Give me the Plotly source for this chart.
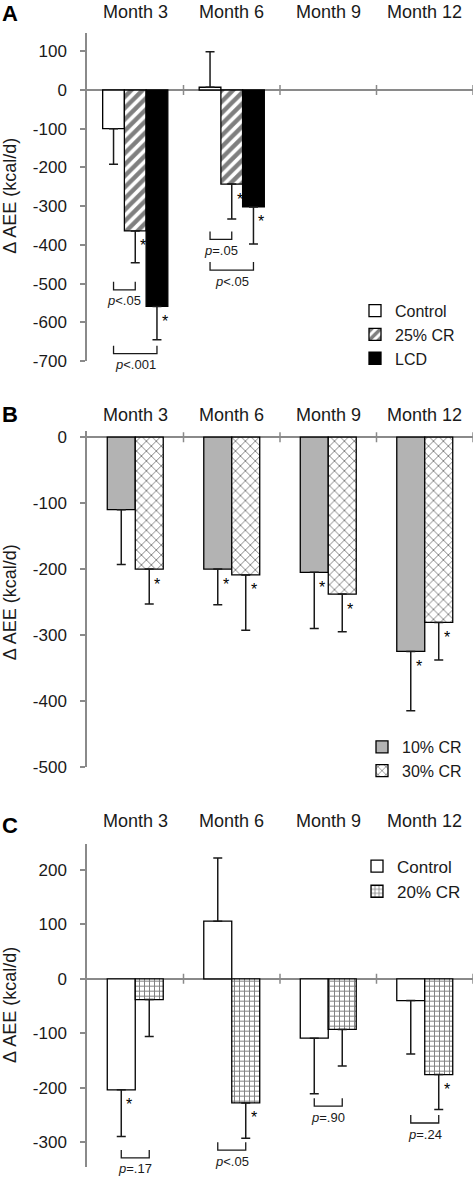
import plotly.graph_objects as go

# ---------------- data ----------------
months = ["Month 3", "Month 6", "Month 9", "Month 12"]

# Panel A
a_control = [-100, 7, None, None]
a_control_sd = [92, 92, None, None]
a_cr25 = [-364, -243, None, None]
a_cr25_sd = [82, 90, None, None]
a_lcd = [-559, -302, None, None]
a_lcd_sd = [86, 96, None, None]
a_control_star = [False, False, False, False]
a_cr25_star = [True, True, False, False]
a_lcd_star = [True, True, False, False]
a_ticks = [100, 0, -100, -200, -300, -400, -500, -600, -700]

# Panel B
b_cr10 = [-110, -200, -205, -325]
b_cr10_sd = [83, 54, 85, 90]
b_cr30 = [-200, -209, -238, -281]
b_cr30_sd = [53, 84, 57, 57]
b_cr10_star = [False, True, True, True]
b_cr30_star = [True, True, True, True]
b_ticks = [0, -100, -200, -300, -400, -500]

# Panel C
c_control = [-204, 106, -109, -40]
c_control_sd = [86, 116, 102, 98]
c_cr20 = [-38, -228, -93, -176]
c_cr20_sd = [68, 65, 67, 64]
c_control_star = [True, False, False, False]
c_cr20_star = [False, True, False, True]
c_ticks = [200, 100, 0, -100, -200, -300]

# p-value comparisons: (month index, bar i, bar j, label)
a_pvals = [(0, 0, 1, "<.05"), (0, 0, 2, "<.001"), (1, 0, 1, "=.05"), (1, 0, 2, "<.05")]
c_pvals = [(0, 0, 1, "=.17"), (1, 0, 1, "<.05"), (2, 0, 1, "=.90"), (3, 0, 1, "=.24")]

# ---------------- layout helpers ----------------
W, H = 475, 1184
FONT = "Liberation Sans, Arial, sans-serif"
GRAY = "#8a8a8a"
INK = "#1a1a1a"
X0PX, X1PX = 87, 473


def fy(px):
    return 1 - px / H


panels = {
    "A": dict(ax="", dom=(30, 362), rng=(-700, 148), ticks=a_ticks, w=0.225,
              month_y=9, letter_y=11, title_y=195, legend=(355, 294), lsize=16, lname="legend",
              pvals=a_pvals, bracket_y=[-516, -681, -386, -465]),
    "B": dict(ax="2", dom=(433, 772.3), rng=(-500, 9), ticks=b_ticks, w=0.29,
              month_y=416.5, letter_y=416, title_y=606, legend=(362, 735), lsize=16, lname="legend2",
              pvals=[], bracket_y=[]),
    "C": dict(ax="3", dom=(850, 1177), rng=(-346, 248.5), ticks=c_ticks, w=0.29,
              month_y=827, letter_y=832, title_y=1013, legend=(357, 855), lsize=17, lname="legend3",
              pvals=c_pvals, bracket_y=[-329, -315, -234, -265]),
}

series = {
    "A": [
        ("Control", a_control, a_control_sd, a_control_star, dict(color="white")),
        ("25% CR", a_cr25, a_cr25_sd, a_cr25_star,
         dict(color="white", pattern=dict(shape="/", fgcolor="black", bgcolor="white", size=8, solidity=0.55))),
        ("LCD", a_lcd, a_lcd_sd, a_lcd_star, dict(color="black")),
    ],
    "B": [
        ("10% CR", b_cr10, b_cr10_sd, b_cr10_star, dict(color="#b3b3b3")),
        ("30% CR", b_cr30, b_cr30_sd, b_cr30_star,
         dict(color="white", pattern=dict(shape="x", fgcolor="black", bgcolor="white", size=7, solidity=0.25))),
    ],
    "C": [
        ("Control", c_control, c_control_sd, c_control_star, dict(color="white")),
        ("20% CR", c_cr20, c_cr20_sd, c_cr20_star,
         dict(color="white", pattern=dict(shape="+", fgcolor="black", bgcolor="white", size=5, solidity=0.35))),
    ],
}

fig = go.Figure()
annotations = []
shapes = []
idx = list(range(len(months)))

for key, p in panels.items():
    ax = p["ax"]
    xref, yref = "x" + ax, "y" + ax
    w = p["w"]
    ser = series[key]
    n = len(ser)
    dom_px = p["dom"][1] - p["dom"][0]
    ppu = dom_px / (p["rng"][1] - p["rng"][0])  # pixels per data unit
    centers = []
    for i, (name, vals, sds, stars, mk) in enumerate(ser):
        off = -n * w / 2 + i * w
        plus, minus = [], []
        for v, s in zip(vals, sds):
            if v is None:
                plus.append(None); minus.append(None)
            elif v >= 0:
                plus.append(s); minus.append(0)
            else:
                plus.append(0); minus.append(s)
        marker = dict(mk)
        marker["line"] = dict(color="black", width=1.3)
        fig.add_trace(go.Bar(
            x=idx, y=vals, width=w, offset=off, name=name, marker=marker,
            xaxis=xref, yaxis=yref, legend=p["lname"], hoverinfo="skip",
            error_y=dict(type="data", symmetric=False, array=plus, arrayminus=minus,
                         color=INK, thickness=1.5, width=4.5),
        ))
        centers.append(off + w / 2)
        for m, (v, st) in enumerate(zip(vals, stars)):
            if st and v is not None:
                annotations.append(dict(x=m + off + w / 2, y=v, xref=xref, yref=yref, text="*",
                                        showarrow=False, xshift=8, yshift=-15,
                                        font=dict(size=16, color="#000000", family=FONT)))
    tick_h = 8 / ppu
    for (m, bi, bj, lab), yl in zip(p["pvals"], p["bracket_y"]):
        xa, xb = m + centers[bi], m + centers[bj]
        shapes.append(dict(type="path", xref=xref, yref=yref,
                           path=f"M {xa},{yl + tick_h} L {xa},{yl} L {xb},{yl} L {xb},{yl + tick_h}",
                           line=dict(color=INK, width=1.3)))
        annotations.append(dict(x=(xa + xb) / 2, y=yl, xref=xref, yref=yref,
                                text="<i>p</i>" + lab.replace("<", "&lt;"), showarrow=False,
                                yshift=-11, font=dict(size=13, color=INK, family=FONT)))
    for b in idx:
        shapes.append(dict(type="line", xref=xref, yref=yref, x0=b + 0.5, x1=b + 0.5,
                           ysizemode="pixel", yanchor=0, y0=-5, y1=5,
                           line=dict(color=GRAY, width=1.5)))
    for m, lab in enumerate(months):
        annotations.append(dict(x=m, y=fy(p["month_y"]), xref=xref, yref="paper", text=lab,
                                showarrow=False, yanchor="middle",
                                font=dict(size=18, color=INK, family=FONT)))
    annotations.append(dict(x=0, y=fy(p["letter_y"]), xref="paper", yref="paper", text=f"<b>{key}</b>",
                            showarrow=False, xanchor="left", yanchor="middle",
                            font=dict(size=22, color="black", family=FONT)))
    annotations.append(dict(x=10 / W, y=fy(p["title_y"]), xref="paper", yref="paper",
                            text="Δ AEE (kcal/d)", textangle=-90, showarrow=False,
                            xanchor="center", yanchor="middle",
                            font=dict(size=18, color=INK, family=FONT)))

    fig.update_layout(**{
        "xaxis" + ax: dict(domain=[X0PX / W, X1PX / W], range=[-0.5, 3.5], anchor=yref,
                           showticklabels=False, showline=False, showgrid=False, zeroline=False,
                           ticks="", fixedrange=True),
        "yaxis" + ax: dict(domain=[fy(p["dom"][1]), fy(p["dom"][0])], range=list(p["rng"]), anchor=xref,
                           tickvals=p["ticks"], ticktext=[str(t) for t in p["ticks"]],
                           ticks="outside", ticklen=5, tickwidth=1.5, tickcolor=GRAY,
                           showline=True, linecolor=GRAY, linewidth=1.5, showgrid=False,
                           zeroline=True, zerolinecolor=GRAY, zerolinewidth=2,
                           ticklabelstandoff=10,
                           tickfont=dict(size=17, color=INK, family=FONT), fixedrange=True),
        p["lname"]: dict(x=p["legend"][0] / W, y=fy(p["legend"][1]), xanchor="left", yanchor="top",
                         bgcolor="rgba(0,0,0,0)", font=dict(size=p["lsize"], color=INK, family=FONT),
                         tracegroupgap=0),
    })

fig.update_layout(
    width=W, height=H, margin=dict(l=0, r=0, t=0, b=0),
    paper_bgcolor="white", plot_bgcolor="white",
    barmode="overlay", showlegend=True, hovermode=False,
    annotations=annotations, shapes=shapes,
    font=dict(family=FONT, color=INK),
)

fig.write_html("out.html", config={"displayModeBar": False},
               post_script="document.body.style.margin='0';document.body.style.overflow='hidden';")
